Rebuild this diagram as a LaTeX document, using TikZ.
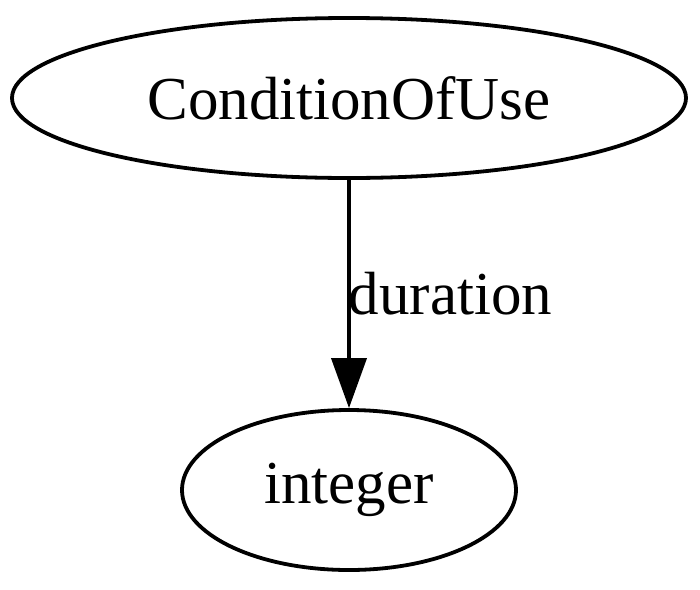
\documentclass[tikz,border=0pt]{standalone}
\usepackage{fontspec}
\setmainfont{Liberation Serif}
\usetikzlibrary{arrows.meta,shapes.geometric}
\begin{document}
\begin{tikzpicture}[x=1pt,y=-1pt,
  nodeell/.style={draw,line width=3.8pt,ellipse,inner sep=0pt,font=\fontsize{61}{70}\selectfont},
  edge/.style={line width=3.8pt,-{Triangle[length=50pt,width=35pt]}}]
\useasboundingbox (0,0) rectangle (700,589);
\node[nodeell,minimum width=674pt,minimum height=160pt] (c) at (349,98) {ConditionOfUse};
\node[nodeell,minimum width=334pt,minimum height=160pt] (i) at (349,490) {integer};
\draw[edge] (c) -- node[anchor=west,inner sep=0pt,font=\fontsize{61}{70}\selectfont,xshift=-2pt] {duration} (i);
\end{tikzpicture}
\end{document}
